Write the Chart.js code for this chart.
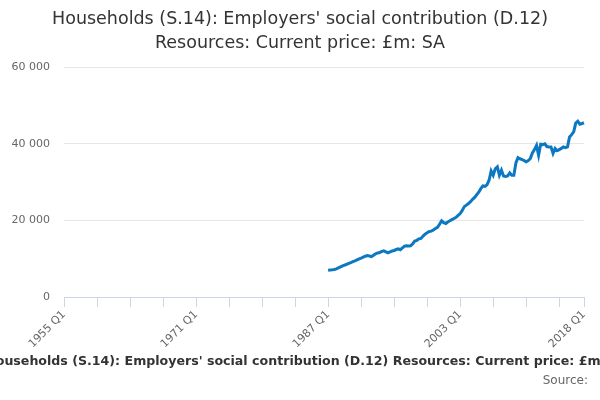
<!DOCTYPE html>
<html><head><meta charset="utf-8">
<script src="https://cdn.jsdelivr.net/npm/chart.js@4.4.0/dist/chart.umd.min.js"></script>
<style>html,body{margin:0;padding:0;background:#fff}#wrap{width:600px;height:400px;position:relative}</style>
</head><body><div id="wrap"><canvas id="c"></canvas></div>
<script>
const firstYear = 1955;
const lastYear = 2018;
const lastQuarter = 1;
const seriesStart = '1987 Q1';
// Quarterly values, £m, 1987 Q1 .. 2018 Q1
const values = [
  7000, 7050, 7100, 7200, 7350, 7600, 7850, 8100, 8350, 8550,
  8800, 9000, 9250, 9450, 9700, 9950, 10150, 10400, 10650, 10800,
  10700, 10550, 10900, 11300, 11500, 11600, 11900, 12050, 11800, 11550,
  11800, 12000, 12150, 12400, 12550, 12350, 12800, 13300, 13400, 13350,
  13400, 13900, 14600, 14800, 15200, 15300, 15900, 16400, 16800, 17100,
  17200, 17500, 17900, 18200, 19000, 19900, 19400, 19200, 19600, 19900,
  20200, 20500, 20800, 21300, 21800, 22600, 23600, 24000, 24400, 24900,
  25500, 26000, 26700, 27400, 28300, 29000, 28900, 29300, 30500, 32900,
  31800, 33500, 34000, 31800, 33100, 31600, 31500, 31600, 32400, 31800,
  31800, 35000, 36400, 36100, 35900, 35600, 35300, 35600, 36200, 37600,
  38500, 39600, 37000, 39900, 39800, 40000, 39300, 39200, 39200, 37500,
  38800, 38200, 38500, 38800, 39200, 39000, 39200, 41800, 42400, 43100,
  45400, 45900, 45100, 45300, 45500
];
const titleLines = ["Households (S.14): Employers' social contribution (D.12)", "Resources: Current price: £m: SA"];
const axisTitle = "Households (S.14): Employers' social contribution (D.12) Resources: Current price: £m: SA";
const sourceText = 'Source:';
const yMin = 0, yMax = 60000, yStep = 20000;
const tickEvery = 16, labelEvery = 64;

const categories = [];
for (let y = firstYear; y <= lastYear; y++) {
  for (let q = 1; q <= 4; q++) {
    if (y === lastYear && q > lastQuarter) break;
    categories.push(y + ' Q' + q);
  }
}
const startIdx = categories.indexOf(seriesStart);
const seriesData = categories.map((c, i) => (i < startIdx || i - startIdx >= values.length) ? null : values[i - startIdx]);
const lastIdx = categories.length - 1;

const FONT = 'DejaVu Sans';
const footerPlugin = {
  id: 'footerTexts',
  afterDraw(chart) {
    const ctx = chart.ctx;
    ctx.save();
    ctx.textBaseline = 'middle';
    ctx.font = 'bold 12.6px "' + FONT + '"';
    ctx.fillStyle = '#333';
    ctx.textAlign = 'center';
    ctx.fillText(axisTitle, 307, 362);
    ctx.font = '12px "' + FONT + '"';
    ctx.fillStyle = '#666';
    ctx.textAlign = 'right';
    ctx.fillText(sourceText, 588, 381);
    ctx.restore();
  }
};

new Chart(document.getElementById('c'), {
  type: 'line',
  data: {
    labels: categories,
    datasets: [{
      data: seriesData,
      borderColor: '#0b78c4',
      backgroundColor: '#0b78c4',
      borderWidth: 3,
      pointRadius: 0,
      tension: 0,
      fill: false
    }]
  },
  options: {
    responsive: true,
    maintainAspectRatio: false,
    animation: false,
    layout: { padding: { left: 0, right: 0, top: 0, bottom: 47 } },
    plugins: {
      legend: { display: false },
      tooltip: { enabled: false },
      title: {
        display: true,
        text: titleLines,
        color: '#333',
        font: { family: FONT, size: 17.5, weight: 'normal', lineHeight: 1.35 },
        padding: { top: 8, bottom: 12 }
      }
    },
    scales: {
      x: {
        type: 'category',
        offset: false,
        afterBuildTicks(axis) {
          axis.ticks = axis.ticks.filter(t => t.value % tickEvery === 0 || t.value === lastIdx);
        },
        afterFit(scale) { scale.height = 56; },
        grid: { drawOnChartArea: false, drawTicks: true, tickLength: 10, color: '#ccd6eb' },
        border: { display: true, color: '#ccd6eb' },
        ticks: {
          autoSkip: false,
          maxRotation: 45,
          minRotation: 45,
          padding: 1,
          color: '#666',
          font: { family: FONT, size: 11 },
          callback(value) {
            return (value % labelEvery === 0 || value === lastIdx) ? this.getLabelForValue(value) : '';
          }
        }
      },
      y: {
        min: yMin,
        max: yMax,
        afterFit(scale) { scale.width = 64; },
        grid: { color: '#e6e6e6', drawTicks: false },
        border: { display: false },
        ticks: {
          stepSize: yStep,
          padding: 14,
          color: '#666',
          font: { family: FONT, size: 11 },
          callback(v) { return String(v).replace(/\B(?=(\d{3})+(?!\d))/g, ' '); }
        }
      },
      rightSpace: {
        type: 'linear',
        position: 'right',
        display: true,
        afterFit(scale) { scale.width = 16; },
        grid: { drawOnChartArea: false, drawTicks: false, display: false },
        border: { display: false },
        ticks: { display: false }
      }
    }
  },
  plugins: [footerPlugin]
});
</script>
</body></html>
